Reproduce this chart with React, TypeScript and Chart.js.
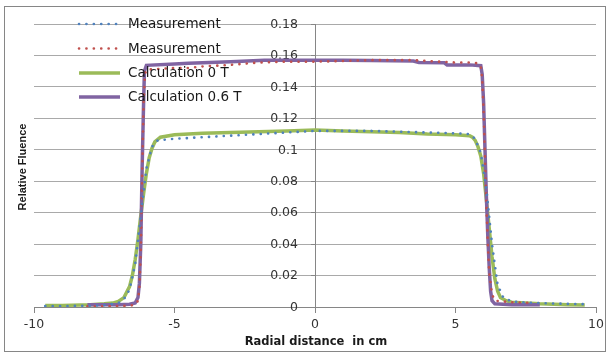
import React, { useEffect, useRef } from 'react';
import { Chart, registerables } from 'chart.js';

Chart.register(...registerables);

// ---- Data ----
const seriesLabels = ['Measurement', 'Measurement', 'Calculation 0 T', 'Calculation 0.6 T'];
const xAxisTitle = 'Radial distance  in cm';
const yAxisTitle = 'Relative Fluence';

// Measurement, 0 T (blue dotted)
const meas0X = [-9.6, -9.0, -8.0, -7.5, -7.0, -6.8, -6.6, -6.4, -6.2, -6.0, -5.8, -5.6, -5.0, -4.0, -3.0, -2.0, -1.0, 0, 1.0, 2.0, 3.0, 4.0, 5.0, 5.5, 5.7, 5.9, 6.1, 6.3, 6.5, 6.7, 7.0, 7.5, 8.0, 9.0, 9.6];
const meas0Y = [0.0006, 0.0006, 0.0008, 0.0012, 0.0025, 0.005, 0.011, 0.027, 0.058, 0.088, 0.102, 0.106, 0.107, 0.108, 0.109, 0.110, 0.111, 0.112, 0.112, 0.112, 0.1115, 0.111, 0.1105, 0.110, 0.107, 0.098, 0.075, 0.040, 0.014, 0.006, 0.0035, 0.0028, 0.0025, 0.002, 0.0018];

// Measurement, 0.6 T (red dotted)
const meas06X = [-8.1, -7.5, -7.0, -6.6, -6.4, -6.3, -6.25, -6.2, -6.15, -6.1, -6.05, -6.0, -5.5, -5.0, -4.5, -4.0, -3.0, -2.0, -1.0, 0, 1.0, 2.0, 3.0, 3.5, 4.0, 4.5, 5.0, 5.5, 5.8, 5.9, 5.95, 6.0, 6.05, 6.1, 6.15, 6.2, 6.3, 6.4, 7.0, 7.8];
const meas06Y = [0.0005, 0.0005, 0.0006, 0.0008, 0.0015, 0.004, 0.012, 0.035, 0.085, 0.13, 0.148, 0.151, 0.1515, 0.152, 0.152, 0.153, 0.154, 0.1555, 0.156, 0.156, 0.1565, 0.157, 0.157, 0.157, 0.1565, 0.156, 0.1555, 0.1555, 0.155, 0.153, 0.145, 0.125, 0.095, 0.065, 0.04, 0.022, 0.008, 0.004, 0.003, 0.0025];

// Calculation 0 T (green)
const calc0X = [-9.6, -9.0, -8.0, -7.5, -7.2, -7.0, -6.8, -6.6, -6.5, -6.4, -6.3, -6.2, -6.1, -6.0, -5.9, -5.8, -5.7, -5.5, -5.0, -4.0, -3.0, -2.0, -1.0, 0, 1.0, 2.0, 3.0, 4.0, 5.0, 5.5, 5.6, 5.7, 5.8, 5.9, 6.0, 6.1, 6.2, 6.3, 6.4, 6.5, 6.6, 6.8, 7.0, 7.5, 8.0, 9.0, 9.6];
const calc0Y = [0.001, 0.001, 0.0015, 0.002, 0.0025, 0.0035, 0.006, 0.013, 0.020, 0.030, 0.043, 0.058, 0.072, 0.085, 0.095, 0.101, 0.105, 0.108, 0.1095, 0.1105, 0.111, 0.1115, 0.112, 0.1125, 0.112, 0.1115, 0.111, 0.110, 0.1095, 0.109, 0.108, 0.106, 0.102, 0.096, 0.085, 0.068, 0.050, 0.032, 0.018, 0.010, 0.006, 0.004, 0.003, 0.0025, 0.002, 0.0015, 0.0012];

// Calculation 0.6 T (purple)
const calc06X = [-8.1, -7.5, -7.0, -6.6, -6.4, -6.3, -6.25, -6.2, -6.15, -6.1, -6.07, -6.0, -5.0, -4.5, -3.0, -1.8, 0, 1.0, 2.0, 3.5, 3.7, 4.6, 4.7, 5.5, 5.9, 5.95, 6.0, 6.05, 6.1, 6.15, 6.2, 6.25, 6.3, 6.4, 7.0, 8.0];
const calc06Y = [0.0015, 0.0015, 0.0015, 0.0017, 0.0025, 0.006, 0.015, 0.04, 0.09, 0.13, 0.15, 0.1537, 0.1545, 0.155, 0.156, 0.157, 0.157, 0.157, 0.1568, 0.1565, 0.1555, 0.1553, 0.154, 0.154, 0.1535, 0.148, 0.13, 0.1, 0.07, 0.045, 0.025, 0.01, 0.004, 0.002, 0.0015, 0.0015];

const xMin = -10;
const xMax = 10;
const xStep = 5;
const yMin = 0;
const yMax = 0.18;
const yStep = 0.02;

const toPoints = (xs: number[], ys: number[]) => xs.map((x, i) => ({ x, y: ys[i] }));
const fmtY = (v: number) => String(Number(v.toFixed(4)));

const AXIS_COLOR = '#868686';
const GRID_COLOR = '#a9a9a9';
const TEXT_COLOR = '#333333';
const TICK_FONT = '12.5px "DejaVu Sans"';

// y tick labels of an axis that crosses at x = 0, right-aligned left of the tick marks
const yLabelPlugin = {
  id: 'yLabels',
  beforeDatasetsDraw(chart: any) {
    const ctx = chart.ctx as CanvasRenderingContext2D;
    const ys = chart.scales.y;
    const xs = chart.scales.x;
    const x0 = xs.getPixelForValue(0);
    ctx.save();
    ctx.fillStyle = TEXT_COLOR;
    ctx.font = TICK_FONT;
    ctx.textAlign = 'right';
    ctx.textBaseline = 'middle';
    ys.ticks.forEach((t: any) => {
      ctx.fillText(fmtY(t.value), x0 - 17, ys.getPixelForValue(t.value) + 0.5);
    });
    ctx.restore();
  },
};

const decorPlugin = {
  id: 'decor',
  afterDraw(chart: any) {
    const ctx = chart.ctx as CanvasRenderingContext2D;
    ctx.save();
    // legend
    const rowY = [24, 48.5, 73, 97];
    chart.data.datasets.forEach((ds: any, i: number) => {
      const y = rowY[i];
      ctx.strokeStyle = ds.borderColor;
      ctx.lineWidth = ds.borderWidth;
      ctx.lineCap = ds.borderCapStyle || 'butt';
      ctx.setLineDash(ds.borderDash || []);
      ctx.beginPath();
      ctx.moveTo(79, y);
      ctx.lineTo(120, y);
      ctx.stroke();
      ctx.setLineDash([]);
      ctx.fillStyle = '#1a1a1a';
      ctx.font = '13.5px "DejaVu Sans"';
      ctx.textAlign = 'left';
      ctx.textBaseline = 'middle';
      ctx.fillText(ds.label, 128, y + 0.5);
    });
    // axis titles
    ctx.fillStyle = '#1a1a1a';
    ctx.font = 'bold 11.5px "DejaVu Sans"';
    ctx.textAlign = 'center';
    ctx.textBaseline = 'middle';
    ctx.fillText(xAxisTitle, 316, 342);
    ctx.save();
    ctx.translate(23, 167);
    ctx.rotate(-Math.PI / 2);
    ctx.font = 'bold 11px "Liberation Sans"';
    ctx.fillText(yAxisTitle, 0, 0);
    ctx.restore();
    // chart border
    ctx.strokeStyle = AXIS_COLOR;
    ctx.lineWidth = 1;
    ctx.strokeRect(4.5, 6.5, 601, 345);
    ctx.restore();
  },
};

export default function App() {
  const canvasRef = useRef<HTMLCanvasElement | null>(null);

  useEffect(() => {
    if (!canvasRef.current) return;
    const chart = new Chart(canvasRef.current, {
      type: 'line',
      data: {
        datasets: [
          {
            label: seriesLabels[0],
            data: toPoints(meas0X, meas0Y),
            borderColor: '#4F81BD',
            borderWidth: 2.6,
            borderDash: [0.1, 7.3],
            borderCapStyle: 'round',
            pointRadius: 0,
            tension: 0,
            order: 0,
          },
          {
            label: seriesLabels[1],
            data: toPoints(meas06X, meas06Y),
            borderColor: '#C0504D',
            borderWidth: 2.6,
            borderDash: [0.1, 7.3],
            borderCapStyle: 'round',
            pointRadius: 0,
            tension: 0,
            order: 1,
          },
          {
            label: seriesLabels[2],
            data: toPoints(calc0X, calc0Y),
            borderColor: '#9BBB59',
            borderWidth: 3.5,
            pointRadius: 0,
            tension: 0,
            order: 3,
          },
          {
            label: seriesLabels[3],
            data: toPoints(calc06X, calc06Y),
            borderColor: '#8064A2',
            borderWidth: 3.5,
            pointRadius: 0,
            tension: 0,
            order: 2,
          },
        ] as any,
      },
      options: {
        animation: false,
        responsive: true,
        maintainAspectRatio: false,
        layout: { padding: { left: 34, right: 13, top: 24, bottom: 47 } },
        plugins: { legend: { display: false }, tooltip: { enabled: false } },
        scales: {
          x: {
            type: 'linear',
            min: xMin,
            max: xMax,
            position: { y: 0 } as any,
            ticks: {
              stepSize: xStep,
              color: TEXT_COLOR,
              font: { family: 'DejaVu Sans', size: 12.5 },
              padding: 5,
              maxRotation: 0,
            },
            grid: {
              drawOnChartArea: false,
              drawTicks: true,
              tickLength: 5,
              tickColor: AXIS_COLOR,
              color: AXIS_COLOR,
            },
            border: { display: true, color: AXIS_COLOR, width: 1 },
          },
          y: {
            type: 'linear',
            min: yMin,
            max: yMax,
            position: { x: 0 } as any,
            ticks: {
              stepSize: yStep,
              display: false,
            },
            grid: {
              color: GRID_COLOR,
              drawTicks: true,
              tickLength: 4,
              tickColor: AXIS_COLOR,
            },
            border: { display: true, color: AXIS_COLOR, width: 1 },
          },
        },
      },
      plugins: [yLabelPlugin, decorPlugin],
    });
    return () => chart.destroy();
  }, []);

  return (
    <div style={{ position: 'fixed', left: 0, top: 0, width: 609, height: 354, background: '#ffffff' }}>
      <canvas ref={canvasRef} />
    </div>
  );
}
